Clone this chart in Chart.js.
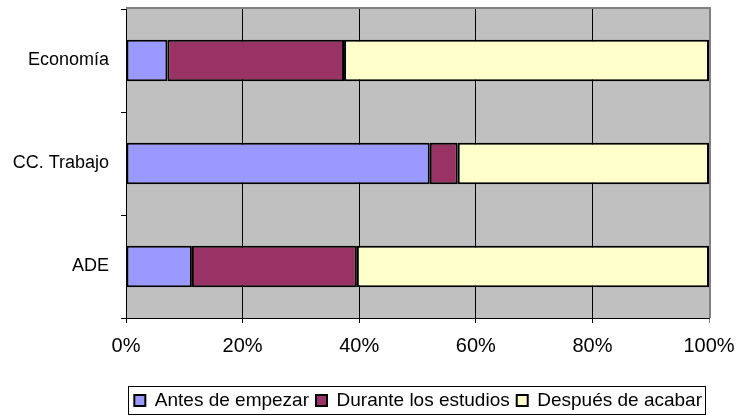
<!DOCTYPE html>
<html>
<head>
<meta charset="utf-8">
<script src="https://cdn.jsdelivr.net/npm/chart.js@4"></script>
<style>
  html, body { margin: 0; padding: 0; background: #fff; }
  #wrap { width: 737px; height: 419px; }
</style>
</head>
<body>
<div id="wrap"><canvas id="chart"></canvas></div>
<script>
// === Datos ===
const categorias = ['Economía', 'CC. Trabajo', 'ADE'];
const antes = [7.1, 52.1, 11.3];
const durante = [30.3, 4.8, 28.3];
const despues = [62.6, 43.1, 60.4];
const series = ['Antes de empezar', 'Durante los estudios', 'Después de acabar'];

// fondo gris del área de trazado + borde superior/derecho
const fondo = {
  id: 'fondo',
  beforeDraw(chart) {
    const { ctx, chartArea: a } = chart;
    ctx.save();
    ctx.fillStyle = '#fff';
    ctx.fillRect(0, 0, chart.width, chart.height);
    ctx.fillStyle = '#c0c0c0';
    ctx.fillRect(a.left, a.top, a.right - a.left, a.bottom - a.top);
    ctx.restore();
  },
  beforeDatasetsDraw(chart) {
    const { ctx, chartArea: a } = chart;
    ctx.save();
    ctx.strokeStyle = '#808080';
    ctx.lineWidth = 2;
    ctx.beginPath();
    ctx.moveTo(a.left, a.top - 1);
    ctx.lineTo(a.right + 1, a.top - 1);
    ctx.lineTo(a.right + 1, a.bottom);
    ctx.stroke();
    ctx.restore();
  },
  afterDraw(chart) {
    // recuadro de la leyenda
    const boxes = chart.legend.legendHitBoxes;
    if (!boxes || !boxes.length) return;
    const left = Math.min(...boxes.map(b => b.left)) - 6;
    const right = Math.max(...boxes.map(b => b.left + b.width)) + 3;
    const top = boxes[0].top - 5;
    const bottom = boxes[0].top + boxes[0].height + 4;
    const ctx = chart.ctx;
    ctx.save();
    ctx.strokeStyle = '#000';
    ctx.lineWidth = 1;
    ctx.strokeRect(Math.round(left) + 0.5, Math.round(top) + 0.5, Math.round(right - left), Math.round(bottom - top));
    ctx.restore();
  }
};

const colores = ['#9999ff', '#993366', '#ffffcc'];

new Chart(document.getElementById('chart'), {
  type: 'bar',
  data: {
    labels: categorias,
    datasets: [antes, durante, despues].map((d, i) => ({
      label: series[i],
      data: d,
      backgroundColor: colores[i],
      borderColor: '#000',
      borderWidth: 2,
      borderSkipped: false,
      barPercentage: 0.405,
      categoryPercentage: 1
    }))
  },
  options: {
    indexAxis: 'y',
    responsive: true,
    maintainAspectRatio: false,
    animation: false,
    layout: { padding: { top: 9, right: 28, left: 0, bottom: -1 } },
    scales: {
      x: {
        stacked: true,
        min: 0,
        max: 100,
        ticks: {
          stepSize: 20,
          callback: v => v + '%',
          color: '#000',
          font: { family: 'Liberation Sans, Arial, sans-serif', size: 20 },
          padding: 11
        },
        grid: {
          color: ctx => (ctx.tick && ctx.tick.value === 100) ? '#808080' : '#000',
          tickLength: 5,
          lineWidth: 1
        },
        border: { color: '#000', width: 1 },
        afterFit(scale) {
          scale.height = 66;
          scale.paddingLeft = 0;
          scale.paddingRight = 0;
        }
      },
      y: {
        stacked: true,
        ticks: {
          color: '#000',
          font: { family: 'Liberation Sans, Arial, sans-serif', size: 18 },
          padding: 12
        },
        grid: {
          offset: true,
          drawOnChartArea: false,
          color: '#000',
          tickLength: 5
        },
        border: { color: '#000', width: 1 },
        afterFit(scale) {
          scale.width = 126;
          scale.paddingTop = 0;
          scale.paddingBottom = 0;
        }
      }
    },
    plugins: {
      tooltip: { enabled: false },
      legend: {
        position: 'bottom',
        align: 'end',
        labels: {
          color: '#000',
          font: { family: 'Liberation Sans, Arial, sans-serif', size: 19 },
          boxWidth: 11,
          boxHeight: 11,
          padding: 7
        }
      }
    }
  },
  plugins: [fondo]
});
</script>
</body>
</html>
